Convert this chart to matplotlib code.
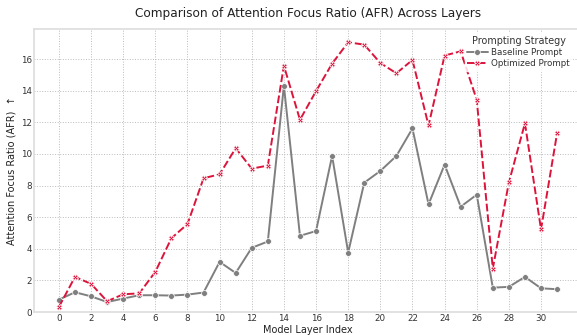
import matplotlib
matplotlib.use("Agg")
import matplotlib.pyplot as plt
import seaborn as sns
import numpy as np

layers = list(range(32))
baseline = [0.78, 1.25, 0.99, 0.63, 0.85, 1.06, 1.06, 1.04, 1.10, 1.23,
            3.17, 2.47, 4.06, 4.46, 14.31, 4.82, 5.12, 9.87, 3.76, 8.18,
            8.92, 9.87, 11.61, 6.81, 9.32, 6.66, 7.42, 1.54, 1.59, 2.22,
            1.50, 1.44]
optimized = [0.32, 2.22, 1.78, 0.68, 1.12, 1.18, 2.54, 4.67, 5.56, 8.46,
             8.71, 10.36, 9.07, 9.26, 15.58, 12.16, 13.97, 15.71, 17.06, 16.91,
             15.75, 15.10, 15.94, 11.80, 16.22, 16.49, 13.42, 2.75, 8.20, 11.94,
             5.22, 11.31]
series_names = ["Baseline Prompt", "Optimized Prompt"]

sns.set_style("whitegrid")
plt.rcParams['font.family'] = ['DejaVu Sans']

W, H = 577, 335
fig = plt.figure(figsize=(W/100, H/100), dpi=100)
ax = fig.add_axes([34/W, 1-312/H, (582-34)/W, (312-29)/H])

ax.plot(layers, baseline, color='#7f7f7f', linestyle='-', linewidth=1.4,
        marker='o', markersize=4.2, markeredgecolor='white', markeredgewidth=0.5,
        label=series_names[0])
ax.plot(layers, optimized, color='#dc143c', linestyle='--', dashes=(4, 1.5), linewidth=1.4,
        marker='X', markersize=4.3, markeredgecolor='white', markeredgewidth=0.5,
        label=series_names[1])

ax.set_xlim(-1.55, 32.55)
ax.set_ylim(0, 17.9)
ax.set_xticks(range(0, 32, 2))
ax.set_yticks(range(0, 17, 2))
ax.tick_params(labelsize=6.3, colors='#333333', pad=1.5, length=0)
ax.grid(True, linestyle=':', color='#bbbbbb', linewidth=0.7)
for s in ax.spines.values():
    s.set_color('#dddddd')
    s.set_linewidth(1.2)

ax.set_title("Comparison of Attention Focus Ratio (AFR) Across Layers",
             fontsize=8.7, color='#222222', pad=9)
ax.set_xlabel("Model Layer Index", fontsize=7, color='#222222', labelpad=1.5)
ax.set_ylabel("Attention Focus Ratio (AFR)  \u2191", fontsize=7, color='#222222', labelpad=3)

leg = ax.legend(title="Prompting Strategy", loc='upper right', fontsize=6.3,
                title_fontsize=6.9, frameon=True, facecolor='white', edgecolor='white',
                framealpha=0.8, bbox_to_anchor=(0.987, 0.995),
                handlelength=2.3, borderaxespad=0.3, labelspacing=0.25,
                handletextpad=0.4, borderpad=0.3)
for t in leg.get_texts():
    t.set_color('#333333')
leg.get_title().set_color('#333333')

fig.savefig("out.png", dpi=100)
